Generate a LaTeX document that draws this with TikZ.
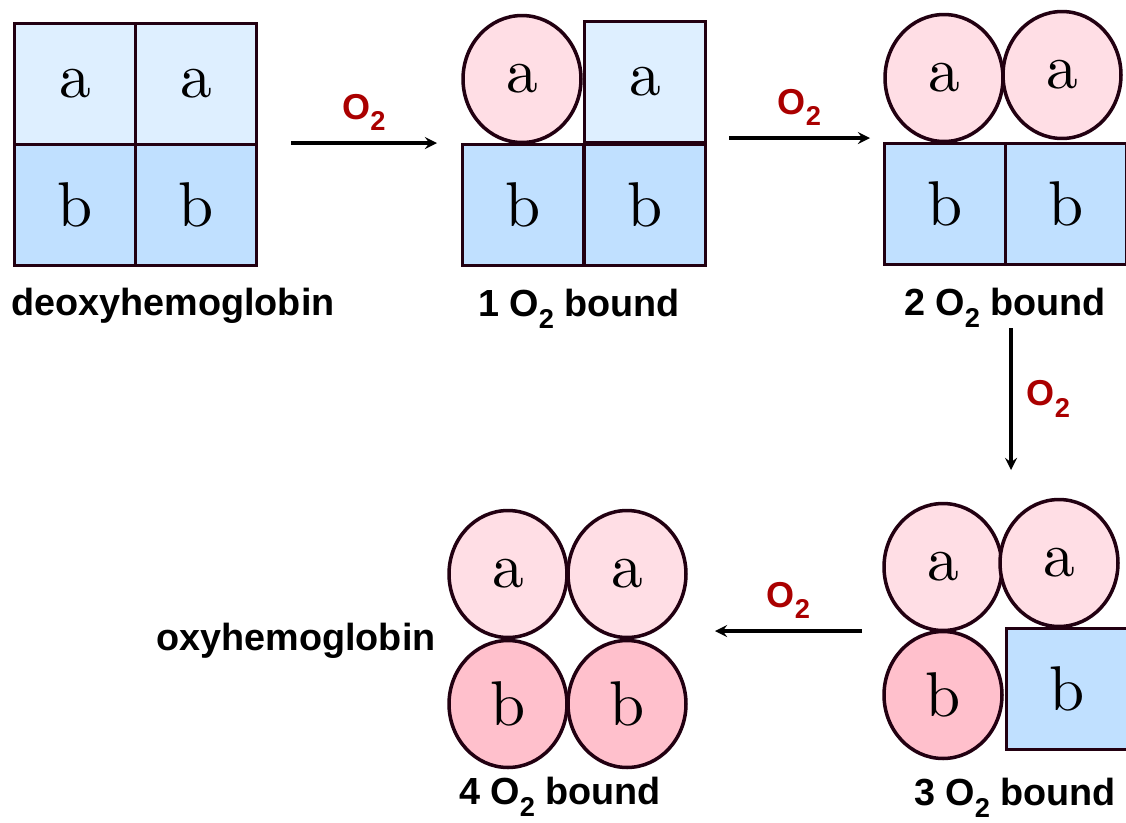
\documentclass[tikz,border=0pt]{standalone}
\usepackage{fontspec}
\usepackage{xcolor}
\usepackage{tikz}
\usetikzlibrary{shapes.geometric, arrows}
\newfontfamily\labelfont{Liberation Sans}
\newfontfamily\unitfont{lmroman10-regular}[Extension=.otf]
\definecolor{alphablue}{RGB}{222,239,255}
\definecolor{betablue}{RGB}{192,224,255}
\definecolor{alphapink}{RGB}{255,222,229}
\definecolor{betapink}{RGB}{255,192,204}
\definecolor{edge}{RGB}{34,0,17}
\definecolor{oxred}{RGB}{170,0,0}
\newcommand{\Otwo}{O\raisebox{-0.32em}{\fontsize{15.5}{16}\selectfont 2}}
\tikzstyle{unit} = [draw=edge, line width=2pt, inner sep=0pt, text centered, font=\unitfont\fontsize{36}{40}\selectfont]
\tikzstyle{tense} = [unit, rectangle, minimum width=2.42cm, minimum height=2.42cm]
\tikzstyle{relaxed} = [unit, ellipse, minimum width=2.36cm, minimum height=2.54cm]
\tikzstyle{alphaT} = [tense, fill=alphablue]
\tikzstyle{betaT} = [tense, fill=betablue]
\tikzstyle{alphaR} = [relaxed, fill=alphapink]
\tikzstyle{betaR} = [relaxed, fill=betapink]
\tikzstyle{caption} = [anchor=base, inner sep=0pt, font=\labelfont\bfseries\fontsize{21.5}{24}\selectfont]
\tikzstyle{oxygen} = [inner sep=0pt, text=oxred, font=\labelfont\bfseries\fontsize{20.5}{24}\selectfont]
\tikzstyle{arrow} = [line width=2pt,->,>=stealth]

\begin{document}
\begin{tikzpicture}[x=0.02cm, y=-0.02cm]
    \useasboundingbox (0,0) rectangle (1126,822);

    % Deoxyhemoglobin
    \node (deoxy-a1) [alphaT] at (75,84) {a};
    \node (deoxy-a2) [alphaT] at (196,84) {a};
    \node (deoxy-b1) [betaT] at (75,205) {b};
    \node (deoxy-b2) [betaT] at (196,205) {b};
    \node (deoxy-label) [caption] at (173,315) {deoxyhemoglobin};

    % 1 O2 bound
    \node (one-a1) [alphaR] at (522,79) {a};
    \node (one-a2) [alphaT] at (645,82) {a};
    \node (one-b1) [betaT] at (523,205) {b};
    \node (one-b2) [betaT] at (645,205) {b};
    \node (one-label) [caption] at (579,316) {1 \Otwo{} bound};

    % 2 O2 bound
    \node (two-a1) [alphaR] at (944,78) {a};
    \node (two-a2) [alphaR] at (1062,75) {a};
    \node (two-b1) [betaT] at (945,204) {b};
    \node (two-b2) [betaT] at (1066,204) {b};
    \node (two-label) [caption] at (1005,315) {2 \Otwo{} bound};

    % 3 O2 bound
    \node (three-a1) [alphaR] at (943,567) {a};
    \node (three-a2) [alphaR] at (1059,563) {a};
    \node (three-b1) [betaR] at (943,695) {b};
    \node (three-b2) [betaT] at (1067,689) {b};
    \node (three-label) [caption] at (1015,805) {3 \Otwo{} bound};

    % 4 O2 bound
    \node (four-a1) [alphaR] at (508,574) {a};
    \node (four-a2) [alphaR] at (627,574) {a};
    \node (four-b1) [betaR] at (508,704) {b};
    \node (four-b2) [betaR] at (627,704) {b};
    \node (four-label) [caption] at (560,804) {4 \Otwo{} bound};
    \node (oxy-label) [caption] at (296,650) {oxyhemoglobin};

    % Arrow ends
    \coordinate (step1-start) at (291,143);
    \coordinate (step1-end) at (437,143);
    \coordinate (step2-start) at (729,138);
    \coordinate (step2-end) at (870,138);
    \coordinate (step3-start) at (1011,328);
    \coordinate (step3-end) at (1011,470);
    \coordinate (step4-start) at (862,631);
    \coordinate (step4-end) at (715,631);

    % Arrows
    \draw [arrow] (step1-start) -- (step1-end) node[oxygen, midway, above=6pt] {\Otwo};
    \draw [arrow] (step2-start) -- (step2-end) node[oxygen, midway, above=6pt] {\Otwo};
    \draw [arrow] (step3-start) -- (step3-end) node[oxygen, midway, right=8pt] {\Otwo};
    \draw [arrow] (step4-start) -- (step4-end) node[oxygen, midway, above=6pt] {\Otwo};
\end{tikzpicture}
\end{document}
